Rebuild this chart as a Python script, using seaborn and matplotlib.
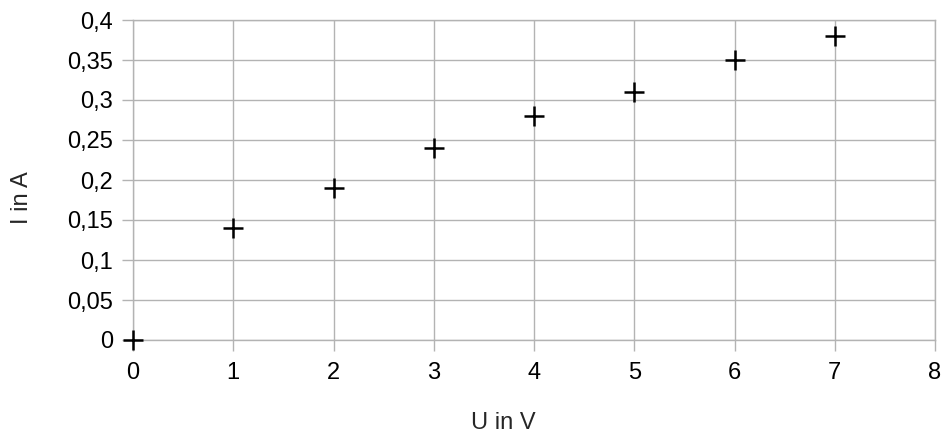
import numpy as np
import pandas as pd
import seaborn as sns
import matplotlib
matplotlib.use('Agg')
import matplotlib.pyplot as plt
from matplotlib.ticker import FuncFormatter, MultipleLocator

# Messwerte: Spannung U in V, Strom I in A
spannung = [0, 1, 2, 3, 4, 5, 6, 7]
strom = [0, 0.14, 0.19, 0.24, 0.28, 0.31, 0.35, 0.38]

df = pd.DataFrame({'U in V': spannung, 'I in A': strom})

sns.set_style('white')
plt.rcParams['font.family'] = ['Liberation Sans', 'DejaVu Sans']

fig = plt.figure(figsize=(9.47, 4.38), dpi=100)
ax = fig.add_axes([133/947, 1 - 340/438, (935-133)/947, (340-20)/438])

sns.scatterplot(data=df, x='U in V', y='I in A', marker='+', s=210,
                color='black', linewidth=1.8, ax=ax, zorder=3, clip_on=False)

ax.set_xlim(0, 8)
ax.set_ylim(0, 0.4)
ax.xaxis.set_major_locator(MultipleLocator(1))
ax.yaxis.set_major_locator(MultipleLocator(0.05))

def komma(v, pos):
    s = f'{v:.2f}'.rstrip('0').rstrip('.')
    return s.replace('.', ',')

ax.yaxis.set_major_formatter(FuncFormatter(komma))
ax.xaxis.set_major_formatter(FuncFormatter(komma))

grau = '#b3b3b3'
ax.grid(True, color=grau, linewidth=1)
for sp in ax.spines.values():
    sp.set_color(grau)
    sp.set_linewidth(1)
ax.tick_params(axis='both', which='major', direction='out', length=8,
               width=1, color=grau, labelsize=17, labelcolor='black', pad=6.5)
ax.tick_params(axis='x', bottom=True, pad=7.5)
ax.tick_params(axis='y', left=True)

ax.set_xlabel('U in V', fontsize=17, va='center', ha='center')
ax.xaxis.set_label_coords((503-133)/802, (340-423)/320)
ax.set_ylabel('I in A', fontsize=17, va='center', ha='center')
ax.yaxis.set_label_coords((22-133)/802, (340-198)/320)

fig.savefig('out.png', dpi=100)
